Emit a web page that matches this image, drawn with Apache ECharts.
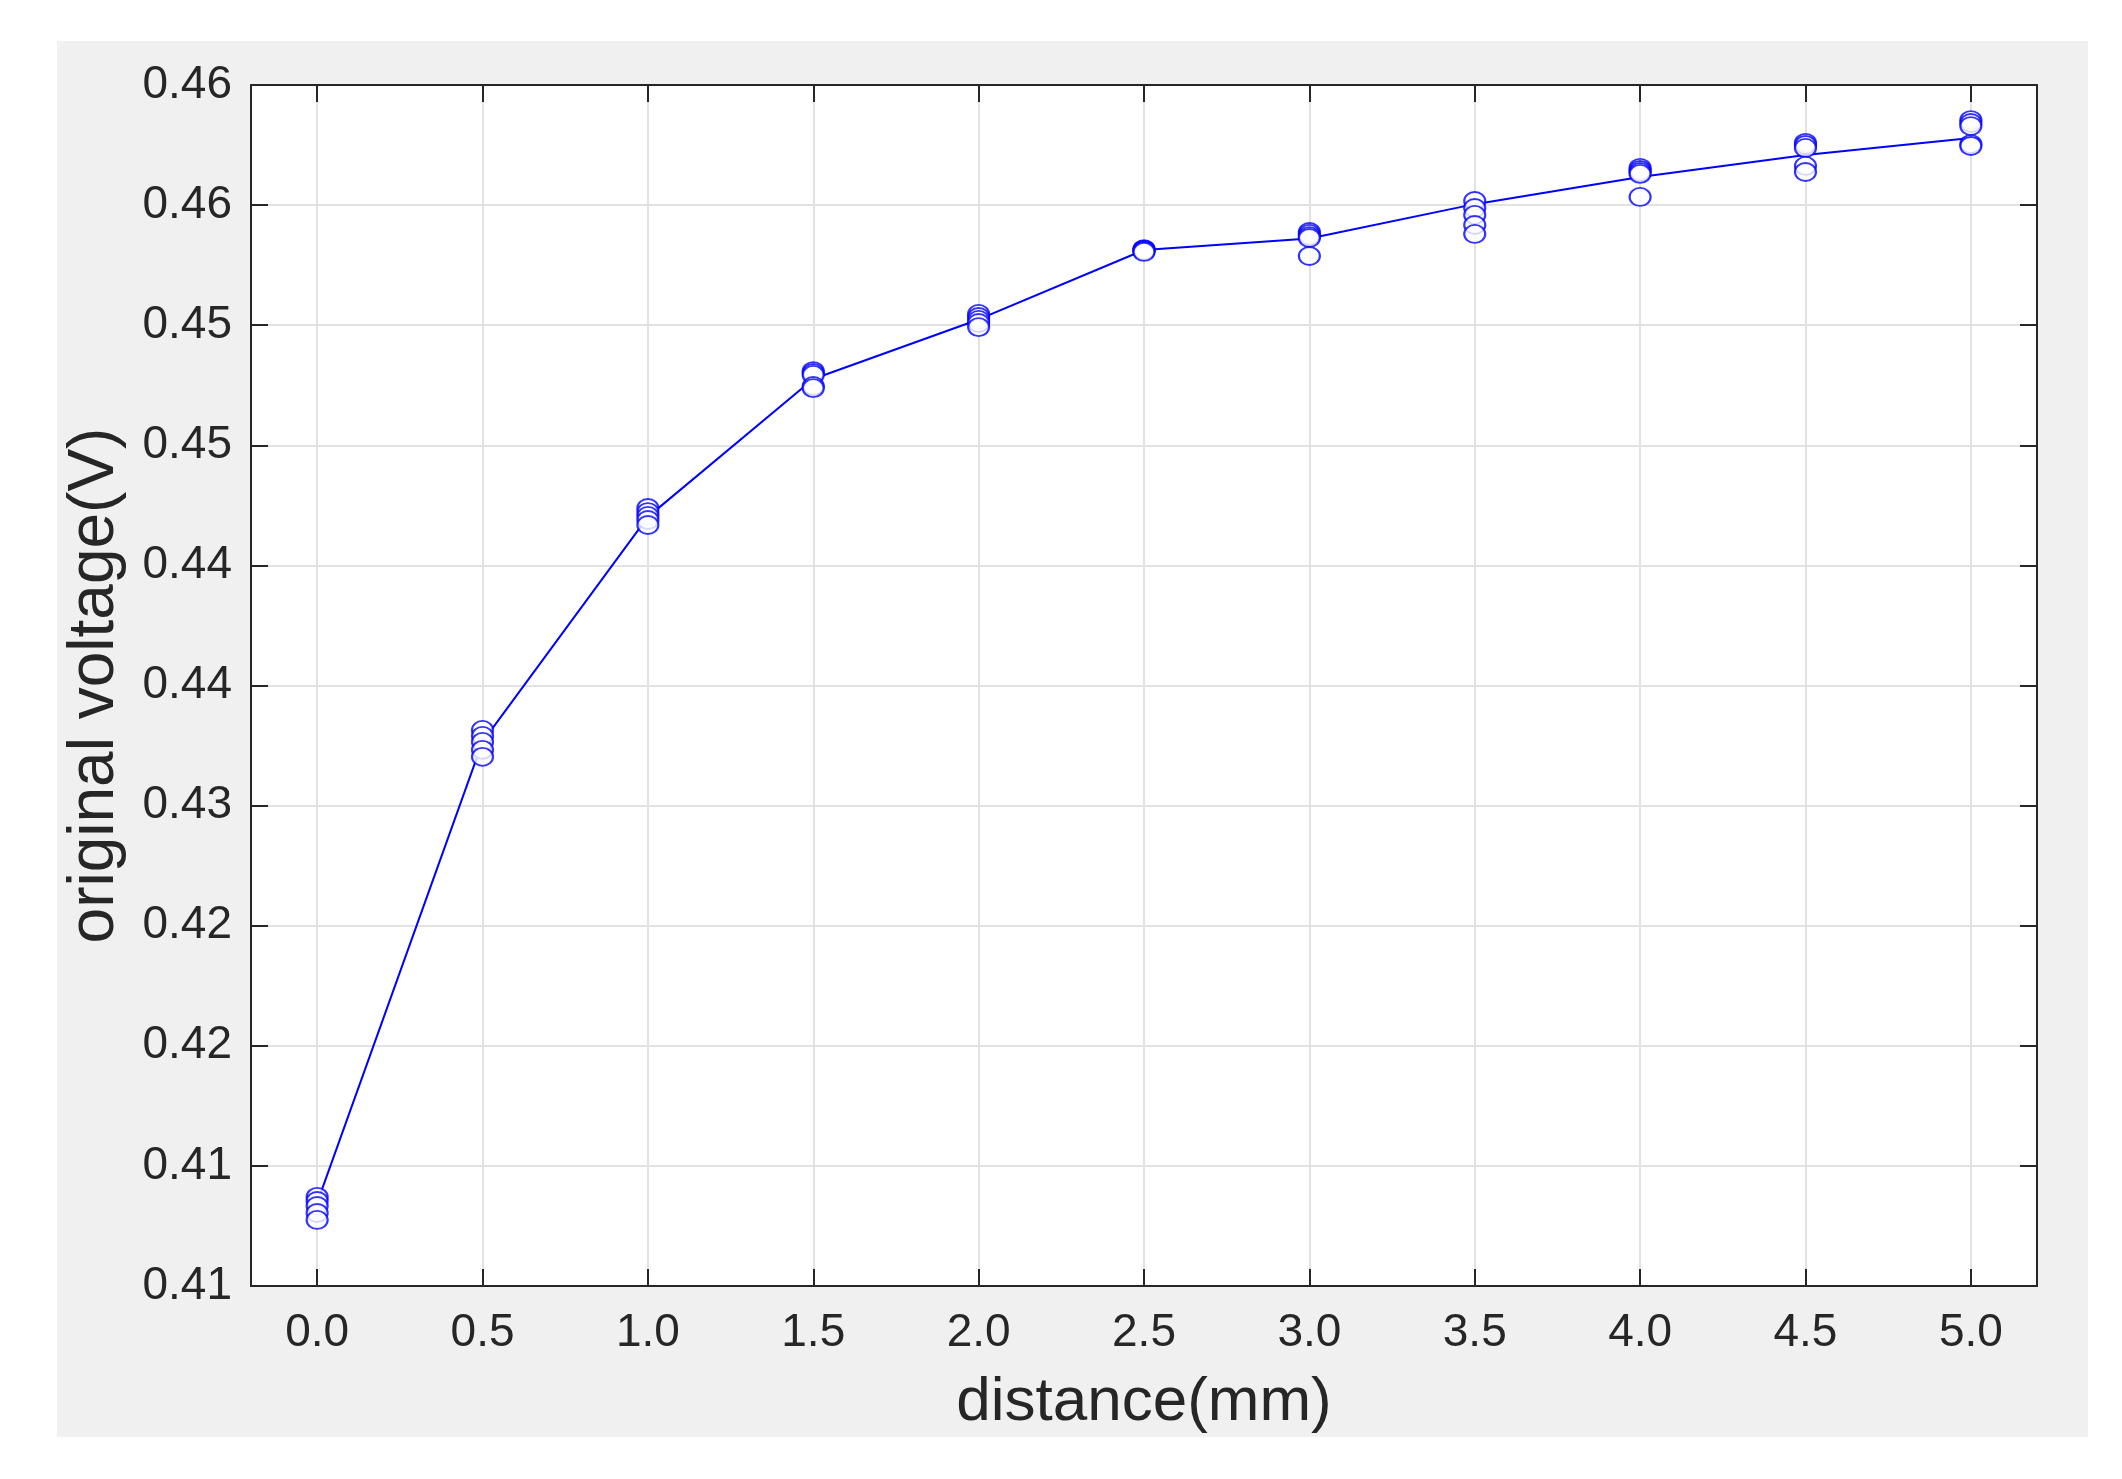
<!DOCTYPE html>
<html>
<head>
<meta charset="utf-8">
<script src="https://cdn.jsdelivr.net/npm/echarts@6/dist/echarts.min.js"></script>
<style>
html,body{margin:0;padding:0;background:#ffffff;}
#chart{width:2122px;height:1479px;}
</style>
</head>
<body>
<div id="chart"></div>
<script>
// ---- data ----
const distances = [0, 0.5, 1.0, 1.5, 2.0, 2.5, 3.0, 3.5, 4.0, 4.5, 5.0];
const meanVoltage = [0.41346, 0.43265, 0.44202, 0.44776, 0.45024, 0.45313, 0.45361, 0.45504, 0.45617, 0.45709, 0.45779];
const sample1 = [0.41371, 0.43315, 0.44239, 0.44809, 0.45047, 0.45317, 0.45388, 0.45517, 0.45655, 0.45759, 0.45854];
const sample2 = [0.41354, 0.43290, 0.44222, 0.44801, 0.45034, 0.45313, 0.45380, 0.45488, 0.45646, 0.45750, 0.45842];
const sample3 = [0.41333, 0.43265, 0.44206, 0.44793, 0.45022, 0.45313, 0.45371, 0.45459, 0.45638, 0.45738, 0.45829];
const sample4 = [0.41304, 0.43232, 0.44189, 0.44747, 0.45009, 0.45309, 0.45363, 0.45417, 0.45630, 0.45663, 0.45754];
const sample5 = [0.41275, 0.43203, 0.44168, 0.44738, 0.44992, 0.45305, 0.45288, 0.45380, 0.45534, 0.45638, 0.45746];
const xTickValues = [0, 0.5, 1.0, 1.5, 2.0, 2.5, 3.0, 3.5, 4.0, 4.5, 5.0];
const xTickLabels = ['0.0', '0.5', '1.0', '1.5', '2.0', '2.5', '3.0', '3.5', '4.0', '4.5', '5.0'];
const yTickLabels = ['0.41', '0.41', '0.42', '0.42', '0.43', '0.44', '0.44', '0.45', '0.45', '0.46', '0.46'];
const xTitle = 'distance(mm)';
const yTitle = 'original voltage(V)';

// ---- build ----
const xMin = -0.2, xMax = 5.2;
const yMin = 0.41, yMax = 0.46, yStep = 0.005;
const lineData = distances.map((d, i) => [d, meanVoltage[i]]);
const scatterData = [];
[sample1, sample2, sample3, sample4, sample5].forEach(s => {
  s.forEach((v, i) => scatterData.push([distances[i], v]));
});

const axisColor = '#262626';
const gridColor = '#e2e2e2';
const fontFam = '"Liberation Sans", Arial, Helvetica, sans-serif';

const chart = echarts.init(document.getElementById('chart'), null, {renderer: 'canvas'});
const tickCommon = {show: true, inside: true, length: 17, lineStyle: {color: axisColor, width: 2}};

chart.setOption({
  backgroundColor: '#ffffff',
  animation: false,
  graphic: [{
    type: 'rect', z: -10, silent: true,
    shape: {x: 57, y: 41, width: 2031, height: 1396},
    style: {fill: '#f0f0f0'}
  }],
  grid: {left: 251, top: 85, right: 85, bottom: 193, show: true, backgroundColor: '#ffffff', borderWidth: 0, outerBoundsMode: 'none'},
  xAxis: [{
    type: 'value', position: 'bottom', min: xMin, max: xMax,
    name: xTitle, nameLocation: 'middle', nameGap: 86,
    nameTextStyle: {color: axisColor, fontSize: 62, fontFamily: fontFam},
    axisLine: {show: true, onZero: false, lineStyle: {color: axisColor, width: 2}},
    axisTick: Object.assign({customValues: xTickValues}, tickCommon),
    axisLabel: {
      customValues: xTickValues, margin: 24, color: axisColor, fontSize: 46, fontFamily: fontFam,
      formatter: v => { const i = xTickValues.findIndex(t => Math.abs(t - v) < 1e-9); return i >= 0 ? xTickLabels[i] : ''; }
    },
    splitLine: {show: true, lineStyle: {color: gridColor, width: 2}}
  }, {
    type: 'value', position: 'top', min: xMin, max: xMax,
    axisLine: {show: true, onZero: false, lineStyle: {color: axisColor, width: 2}},
    axisTick: Object.assign({customValues: xTickValues}, tickCommon),
    axisLabel: {show: false},
    splitLine: {show: false}
  }],
  yAxis: [{
    type: 'value', position: 'left', min: yMin, max: yMax, interval: yStep,
    name: yTitle, nameLocation: 'middle', nameGap: 124, nameRotate: 90,
    nameTextStyle: {color: axisColor, fontSize: 64, fontFamily: fontFam},
    axisLine: {show: true, onZero: false, lineStyle: {color: axisColor, width: 2}},
    axisTick: tickCommon,
    axisLabel: {
      margin: 19, color: axisColor, fontSize: 46, fontFamily: fontFam,
      formatter: v => yTickLabels[Math.round((v - yMin) / yStep)]
    },
    splitLine: {show: true, lineStyle: {color: gridColor, width: 2}}
  }, {
    type: 'value', position: 'right', min: yMin, max: yMax, interval: yStep,
    axisLine: {show: true, onZero: false, lineStyle: {color: axisColor, width: 2}},
    axisTick: tickCommon,
    axisLabel: {show: false},
    splitLine: {show: false}
  }],
  series: [{
    type: 'line', xAxisIndex: 0, yAxisIndex: 0, data: lineData,
    showSymbol: false, symbol: 'none',
    lineStyle: {color: '#0000ff', width: 2}, z: 3
  }, {
    type: 'scatter', xAxisIndex: 0, yAxisIndex: 0, data: scatterData,
    symbol: 'emptyCircle', symbolSize: [21, 18],
    itemStyle: {color: '#0000ff', borderColor: '#0000ff', borderWidth: 2}, z: 4
  }]
});
</script>
</body>
</html>
